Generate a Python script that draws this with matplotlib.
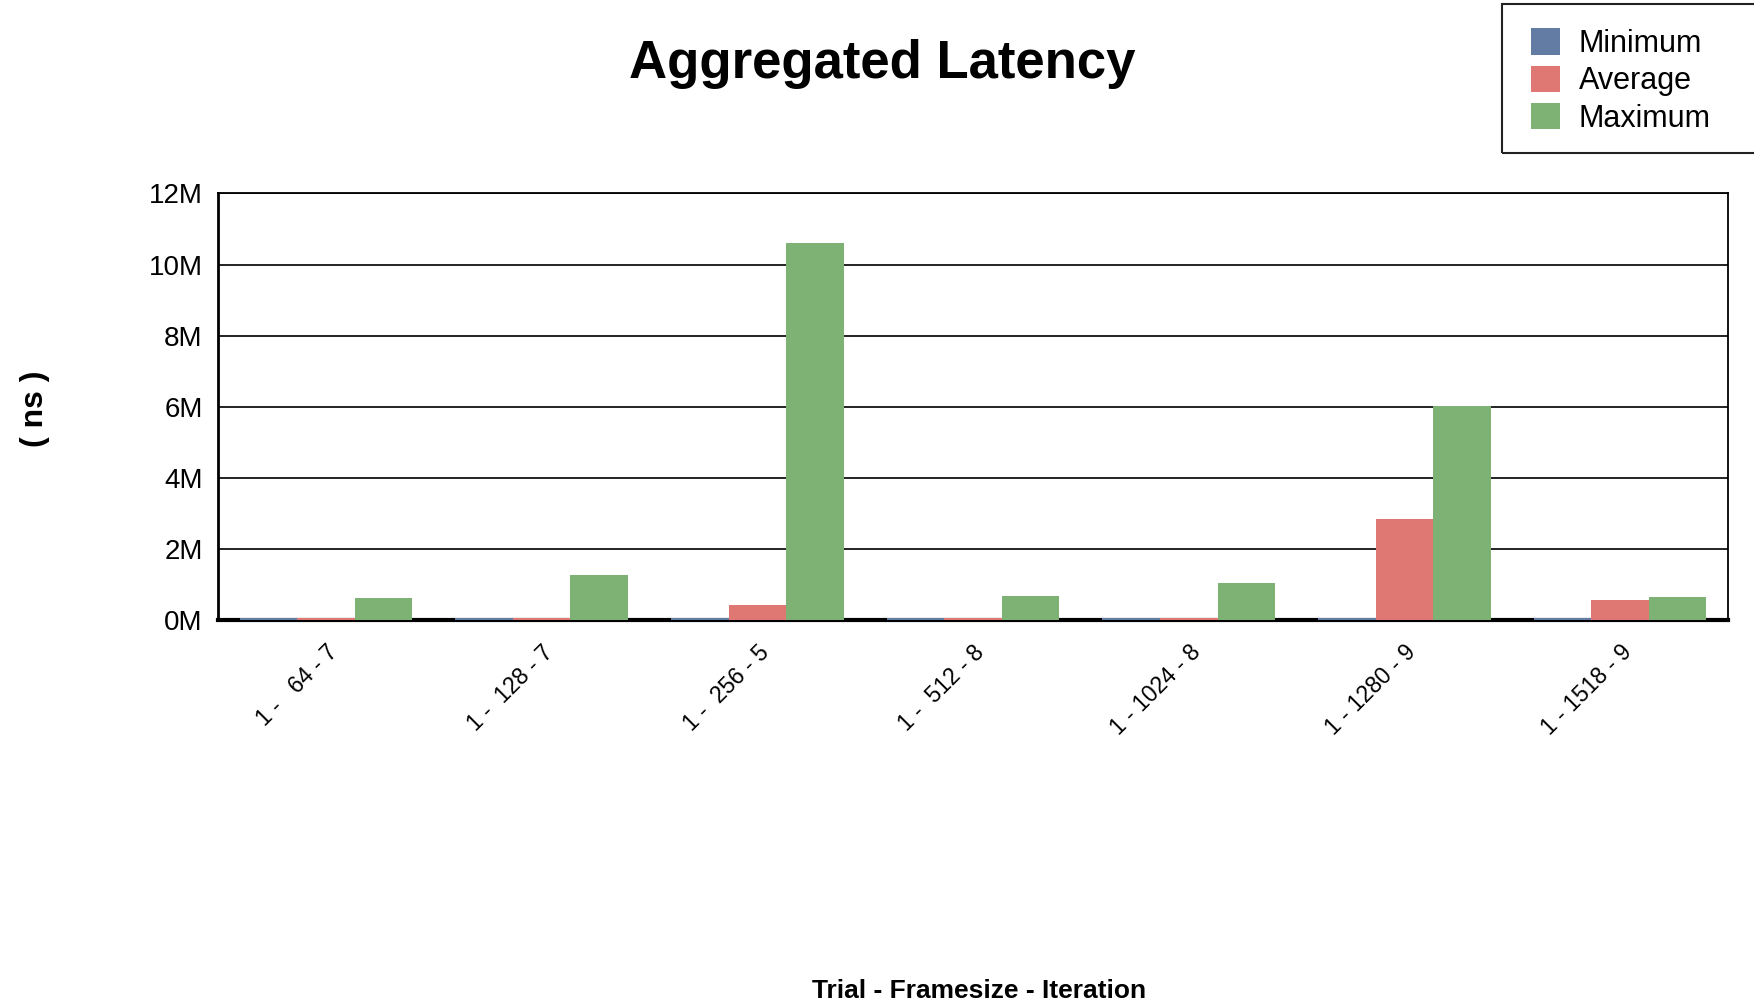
#!/usr/bin/env python3
"""Aggregated latency bar chart: min / avg / max per trial-framesize-iteration"""

import numpy as np
import matplotlib
matplotlib.use('Agg')
import matplotlib.pyplot as plt
from matplotlib.patches import Rectangle
from matplotlib.ticker import FuncFormatter

plt.rcParams['font.family'] = ['Liberation Sans', 'DejaVu Sans']

# data (ns)
trials = [1, 1, 1, 1, 1, 1, 1]
framesizes = [64, 128, 256, 512, 1024, 1280, 1518]
iterations = [7, 7, 5, 8, 8, 9, 9]
minimum = [50000, 50000, 50000, 50000, 50000, 60000, 60000]
average = [55000, 55000, 420000, 55000, 55000, 2850000, 565000]
maximum = [620000, 1270000, 10600000, 680000, 1040000, 6030000, 650000]

labels = [f'{t} - {fs:>4} - {it}' for t, fs, it in zip(trials, framesizes, iterations)]

colors = {'Minimum': '#627ca4', 'Average': '#df7873', 'Maximum': '#7db274'}

fig = plt.figure(figsize=(17.54, 10.06), dpi=100)
ax = fig.add_axes([0.1243, 0.3837, 0.8609, 0.424])

x = np.arange(len(labels))
w = 0.8 / 3
ax.bar(x - w, minimum, w, color=colors['Minimum'], label='Minimum', zorder=3)
ax.bar(x, average, w, color=colors['Average'], label='Average', zorder=3)
ax.bar(x + w, maximum, w, color=colors['Maximum'], label='Maximum', zorder=3)

ax.set_xlim(-0.5, len(labels) - 0.5)
ax.set_ylim(0, 12e6)
ax.set_yticks(np.arange(0, 12e6 + 1, 2e6))
ax.yaxis.set_major_formatter(FuncFormatter(lambda v, p: f'{v / 1e6:.0f}M'))
ax.grid(True, axis='y', color='#222222', linewidth=1.4, zorder=1)
ax.set_axisbelow(True)

ax.set_xticks(x)
ax.set_xticklabels(labels, rotation=45, ha='right', rotation_mode='anchor', fontsize=16.5)
ax.tick_params(axis='x', length=0, pad=15)
ax.tick_params(axis='y', length=0, pad=11, labelsize=20)

for side in ['top', 'right']:
    ax.spines[side].set_linewidth(1.3)
ax.spines['left'].set_linewidth(2)
ax.spines['bottom'].set_linewidth(3)

fig.text(0.503, 0.936, 'Aggregated Latency', ha='center', va='center',
         fontsize=38, fontweight='bold')
fig.text(0.020, 0.594, '( ns )', ha='center', va='center', rotation=90,
         fontsize=23, fontweight='bold')
fig.text(0.558, 0.015, 'Trial - Framesize - Iteration', ha='center', va='center',
         fontsize=19, fontweight='bold')

# legend with its frame running off the right edge
W, H = 1754, 1006
fig.patches.append(Rectangle((1502 / W, 1 - 153 / H), 300 / W, 149 / H,
                             transform=fig.transFigure, fill=False,
                             edgecolor='#222222', linewidth=1.5))
fig.legend(loc='upper left', bbox_to_anchor=(1516 / W, 1 - 13 / H), frameon=False,
           fontsize=22, handlelength=0.95, handleheight=0.95, labelspacing=0.22,
           handletextpad=0.6, borderpad=0)

plt.savefig('out.png', dpi=100)
